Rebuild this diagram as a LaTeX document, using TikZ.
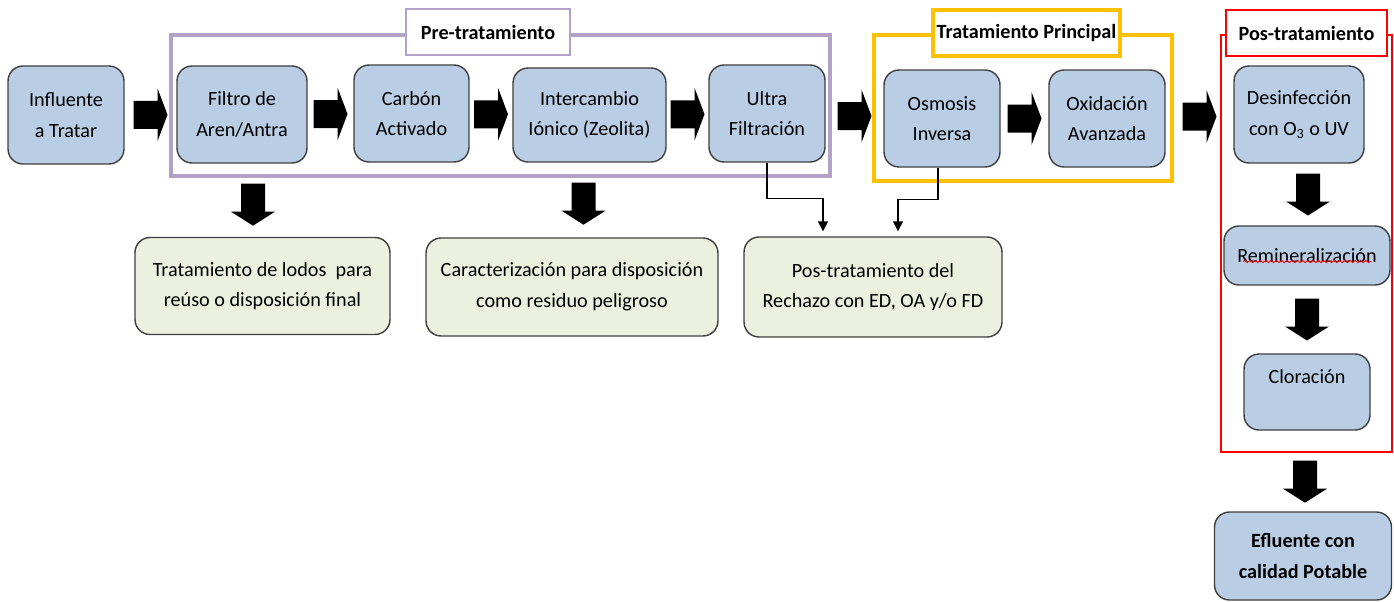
\documentclass[tikz,border=0pt]{standalone}
\usepackage{fontspec}
\setmainfont{Carlito}
\usepackage{tikz}
\usetikzlibrary{calc,arrows.meta,decorations.pathmorphing}

\definecolor{boxblue}{HTML}{B9CDE5}
\definecolor{boxgreen}{HTML}{EBF1DE}
\definecolor{boxline}{HTML}{3F3F3F}
\definecolor{prelila}{HTML}{B3A2C7}
\definecolor{prinorange}{HTML}{FFC000}

\tikzset{
  etapa/.style={draw=boxline, line width=0.8pt, rounded corners=0.3cm, fill=boxblue,
    align=center, inner sep=2pt, font=\fontsize{11.5}{17.5}\selectfont},
  residuo/.style={etapa, fill=boxgreen},
  titulo/.style={draw, fill=white, minimum height=0.92cm, inner sep=2pt,
    font=\fontsize{11.5}{13}\selectfont\bfseries},
  hfat/.pic={\fill (-17,-14) -- ++(24,0) -- ++(0,-12.5) -- ++(10,26.5) -- ++(-10,26.5) -- ++(0,-12.5) -- ++(-24,0) -- cycle;},
  vfat/.pic={\fill (-12,-21) -- ++(24,0) -- ++(0,28) -- ++(10,0) -- ++(-22,14) -- ++(-22,-14) -- ++(10,0) -- cycle;},
}

\begin{document}
\begin{tikzpicture}[x=0.02cm,y=-0.02cm,>=stealth]

    \useasboundingbox (0,0) rectangle (1394,602);

    % Marcos de las etapas
    \draw[prelila, line width=1.8pt] (171,35) rectangle (830,176);
    \draw[prinorange, line width=2.8pt] (874,35) rectangle (1172,181);
    \draw[red, line width=1.4pt] (1221,35) rectangle (1392,452);

    % Titulos de los marcos
    \node[titulo, draw=prelila, line width=1.2pt, minimum width=3.28cm] (lpre) at (488,32) {Pre-tratamiento};
    \node[titulo, draw=prinorange, line width=1.8pt, minimum width=3.74cm] (lpri) at (1026.5,33) {Tratamiento Principal};
    \node[titulo, draw=red, line width=1.2pt, minimum width=3.22cm] (lpos) at (1306.5,33) {Pos-tratamiento};

    % Linea principal de tratamiento
    \node[etapa, minimum width=2.32cm, minimum height=1.96cm] (inf) at (66,115) {Influente\\a Tratar};
    \node[etapa, minimum width=2.60cm, minimum height=1.94cm] (fil) at (242,114.5) {Filtro de\\Aren/Antra};
    \node[etapa, minimum width=2.30cm, minimum height=1.94cm] (car) at (411.5,113.5) {Carbón\\Activado};
    \node[etapa, minimum width=3.06cm, minimum height=1.88cm] (int) at (589.5,115) {Intercambio\\Iónico (Zeolita)};
    \node[etapa, minimum width=2.32cm, minimum height=1.94cm] (ult) at (767,113.5) {Ultra\\Filtración};
    \node[etapa, minimum width=2.32cm, minimum height=1.94cm] (osm) at (942,118.5) {Osmosis\\Inversa};
    \node[etapa, minimum width=2.32cm, minimum height=1.94cm] (oxi) at (1107,118.5) {Oxidación\\Avanzada};

    % Pos-tratamiento
    \node[etapa, minimum width=2.60cm, minimum height=1.94cm] (des) at (1299,114.5) {Desinfección\\con O\textsubscript{3} o UV};
    \node[etapa, minimum width=3.32cm, minimum height=1.18cm] (rem) at (1307,255.5) {Remineralización};
    \node[etapa, minimum width=2.52cm, minimum height=1.52cm] (clo) at (1307,392) {Cloración\\\mbox{}};
    \node[etapa, minimum width=3.54cm, minimum height=1.76cm, font=\fontsize{11.5}{17.5}\selectfont\bfseries] (efl) at (1303,556) {Efluente con\\calidad Potable};

    % Residuos
    \node[residuo, minimum width=5.10cm, minimum height=1.94cm] (lod) at (262.5,286) {Tratamiento de lodos~ para\\reúso o disposición final};
    \node[residuo, minimum width=5.84cm, minimum height=1.96cm] (cara) at (572,287) {Caracterización para disposición\\como residuo peligroso};
    \node[residuo, minimum width=5.16cm, minimum height=2.00cm] (rec) at (873,287) {Pos-tratamiento del\\Rechazo con ED, OA y/o FD};

    % Flechas gruesas
    \pic at ($(inf.east)!0.5!(fil.west)$) {hfat};
    \pic at ($(fil.east)!0.5!(car.west)$) {hfat};
    \pic at ($(car.east)!0.5!(int.west)$) {hfat};
    \pic at ($(int.east)!0.5!(ult.west)$) {hfat};
    \pic at ($(ult.east)!0.5!(osm.west)$) {hfat};
    \pic at ($(osm.east)!0.5!(oxi.west)$) {hfat};
    \pic at ($(oxi.east)!0.5!(des.west)$) {hfat};

    \pic at ($(fil.south)+(11,41)$) {vfat};
    \pic at ($(int.south)+(-6,41)$) {vfat};
    \pic at ($(des.south)!0.5!(rem.north)+(5,0)$) {vfat};
    \pic at ($(rem.south)!0.5!(clo.north)$) {vfat};
    \pic at ($(clo.south)+(-2,51)$) {vfat};

    % Rechazo hacia el pos-tratamiento
    \draw[line width=0.8pt, -{Triangle[length=0.2cm,width=0.2cm]}, shorten >=0.1cm]
        (ult.south) -- ++(0,36) -| ([xshift=-1cm]rec.north);
    \draw[line width=0.8pt, -{Triangle[length=0.2cm,width=0.2cm]}, shorten >=0.1cm]
        ([xshift=-0.08cm]osm.south) -- ++(0,32) -| ([xshift=0.5cm]rec.north);

    % Subrayado del corrector
    \draw[red, line width=0.5pt, decorate, decoration={snake, amplitude=0.6pt, segment length=3pt}]
        ($(rem.center)+(-64,6)$) -- ($(rem.center)+(64,6)$);
\end{tikzpicture}
\end{document}
